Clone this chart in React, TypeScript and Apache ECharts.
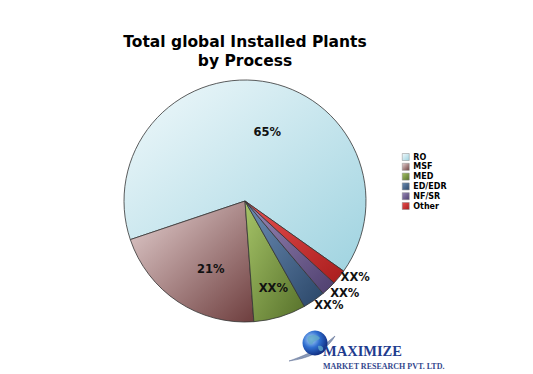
import React, { useEffect, useRef } from "react";
import * as echarts from "echarts";

const categories = ["RO", "MSF", "MED", "ED/EDR", "NF/SR", "Other"];
const values = [65, 21, 7, 3, 2, 2];
const labelTexts = ["65%", "21%", "XX%", "XX%", "XX%", "XX%"];
const gradientStops: [string, string][] = [
  ["#f1f9fb", "#9fd3e0"],
  ["#e6d2d2", "#6e3e3e"],
  ["#a6c468", "#56702a"],
  ["#6e8fb6", "#2a4668"],
  ["#9a8ab8", "#4e3e6e"],
  ["#e85050", "#a81c1c"],
];
const titleText = "Total global Installed Plants\nby Process";
const logoTitle = "MAXIMIZE";
const logoSub = "MARKET RESEARCH PVT. LTD.";

const insideLabel = [true, true, true, false, false, false];
const labelOffsets: number[][] = [[13, -6], [1, 15], [10, 26], [-1, 3], [0, 3], [0, -1]];

export default function App() {
  const ref = useRef<HTMLDivElement>(null);
  useEffect(() => {
    document.body.style.margin = "0";
    if (!ref.current) return;
    const chart = echarts.init(ref.current, null, { renderer: "svg" });
    echarts.graphic.registerShape(
      "swoosh",
      echarts.graphic.extendPath(
        "M289,361 C300,357 318,351 335,336 C328,349 311,358 289,361 Z",
        {}
      )
    );
    echarts.graphic.registerShape(
      "continent",
      echarts.graphic.extendPath(
        "M309,336 C313,334 318,335 320,338 C318,341 315,340 313,343 C311,346 309,344 308,341 C307,339 307,337 309,336 Z M318,346 C321,345 324,347 323,350 C321,352 318,351 318,346 Z",
        {}
      )
    );
    const data = categories.map((name, i) => {
      return {
        name,
        value: values[i],
        itemStyle: {
          color: new echarts.graphic.LinearGradient(0, 0, 1, 1, [
            { offset: 0, color: gradientStops[i][0] },
            { offset: 1, color: gradientStops[i][1] },
          ]),
        },
        label: insideLabel[i]
          ? { position: "inside", offset: labelOffsets[i] }
          : { position: "outside", distanceToLabelLine: 0, offset: labelOffsets[i] },
        labelLine: { show: false, length: 2, length2: 0 },
      };
    });
    chart.setOption({
      animation: false,
      backgroundColor: "#ffffff",
      title: {
        text: titleText,
        left: 240,
        top: 27,
        textAlign: "center",
        textStyle: {
          fontFamily: "DejaVu Sans",
          fontWeight: "bold",
          fontSize: 15.5,
          lineHeight: 19,
          color: "#000000",
        },
      },
      legend: {
        orient: "vertical",
        left: 397,
        top: 148,
        itemWidth: 7,
        itemHeight: 7,
        itemGap: 1.8,
        icon: "rect",
        data: categories,
        textStyle: {
          fontFamily: "DejaVu Sans",
          fontWeight: "bold",
          fontSize: 8,
          color: "#000000",
          padding: [0, 0, 0, -1],
        },
        itemStyle: { borderColor: "#888888", borderWidth: 0.5 },
      },
      series: [
        {
          type: "pie",
          center: [245, 201],
          radius: 121,
          startAngle: -35.4,
          clockwise: false,
          avoidLabelOverlap: false,
          labelLayout: { hideOverlap: false },
          itemStyle: { borderColor: "#333333", borderWidth: 0.8 },
          label: {
            show: true,
            formatter: (p: any) => labelTexts[p.dataIndex],
            fontFamily: "DejaVu Sans",
            fontWeight: "bold",
            fontSize: 11.5,
            lineHeight: 10,
            color: "#111111",
          },
          emphasis: { disabled: true },
          data,
        },
      ],
      graphic: [
        {
          type: "swoosh",
          x: 0,
          y: 0,
          style: { fill: "#8a9ab8", stroke: "#5a6a90", lineWidth: 0.5 },
        },
        {
          type: "circle",
          shape: { cx: 315, cy: 343, r: 12.5 },
          style: {
            fill: new echarts.graphic.RadialGradient(0.35, 0.35, 0.75, [
              { offset: 0, color: "#b8dcff" },
              { offset: 0.45, color: "#2f6fd0" },
              { offset: 1, color: "#0a1f70" },
            ]),
          },
        },
        {
          type: "continent",
          x: 0,
          y: 0,
          style: { fill: "#5fa8c8", opacity: 0.8 },
        },
        {
          type: "text",
          x: 323,
          y: 358,
          style: {
            text: logoTitle,
            fontFamily: "Liberation Serif",
            fontWeight: "bold",
            fontSize: 14.5,
            fill: "#1f3c8e",
            verticalAlign: "bottom",
          },
        },
        {
          type: "text",
          x: 323,
          y: 366,
          style: {
            text: logoSub,
            fontFamily: "Liberation Serif",
            fontWeight: "bold",
            fontSize: 8,
            fill: "#34478e",
            verticalAlign: "middle",
          },
        },
      ],
    });
    return () => chart.dispose();
  }, []);
  return <div ref={ref} style={{ width: 533, height: 374 }} />;
}
